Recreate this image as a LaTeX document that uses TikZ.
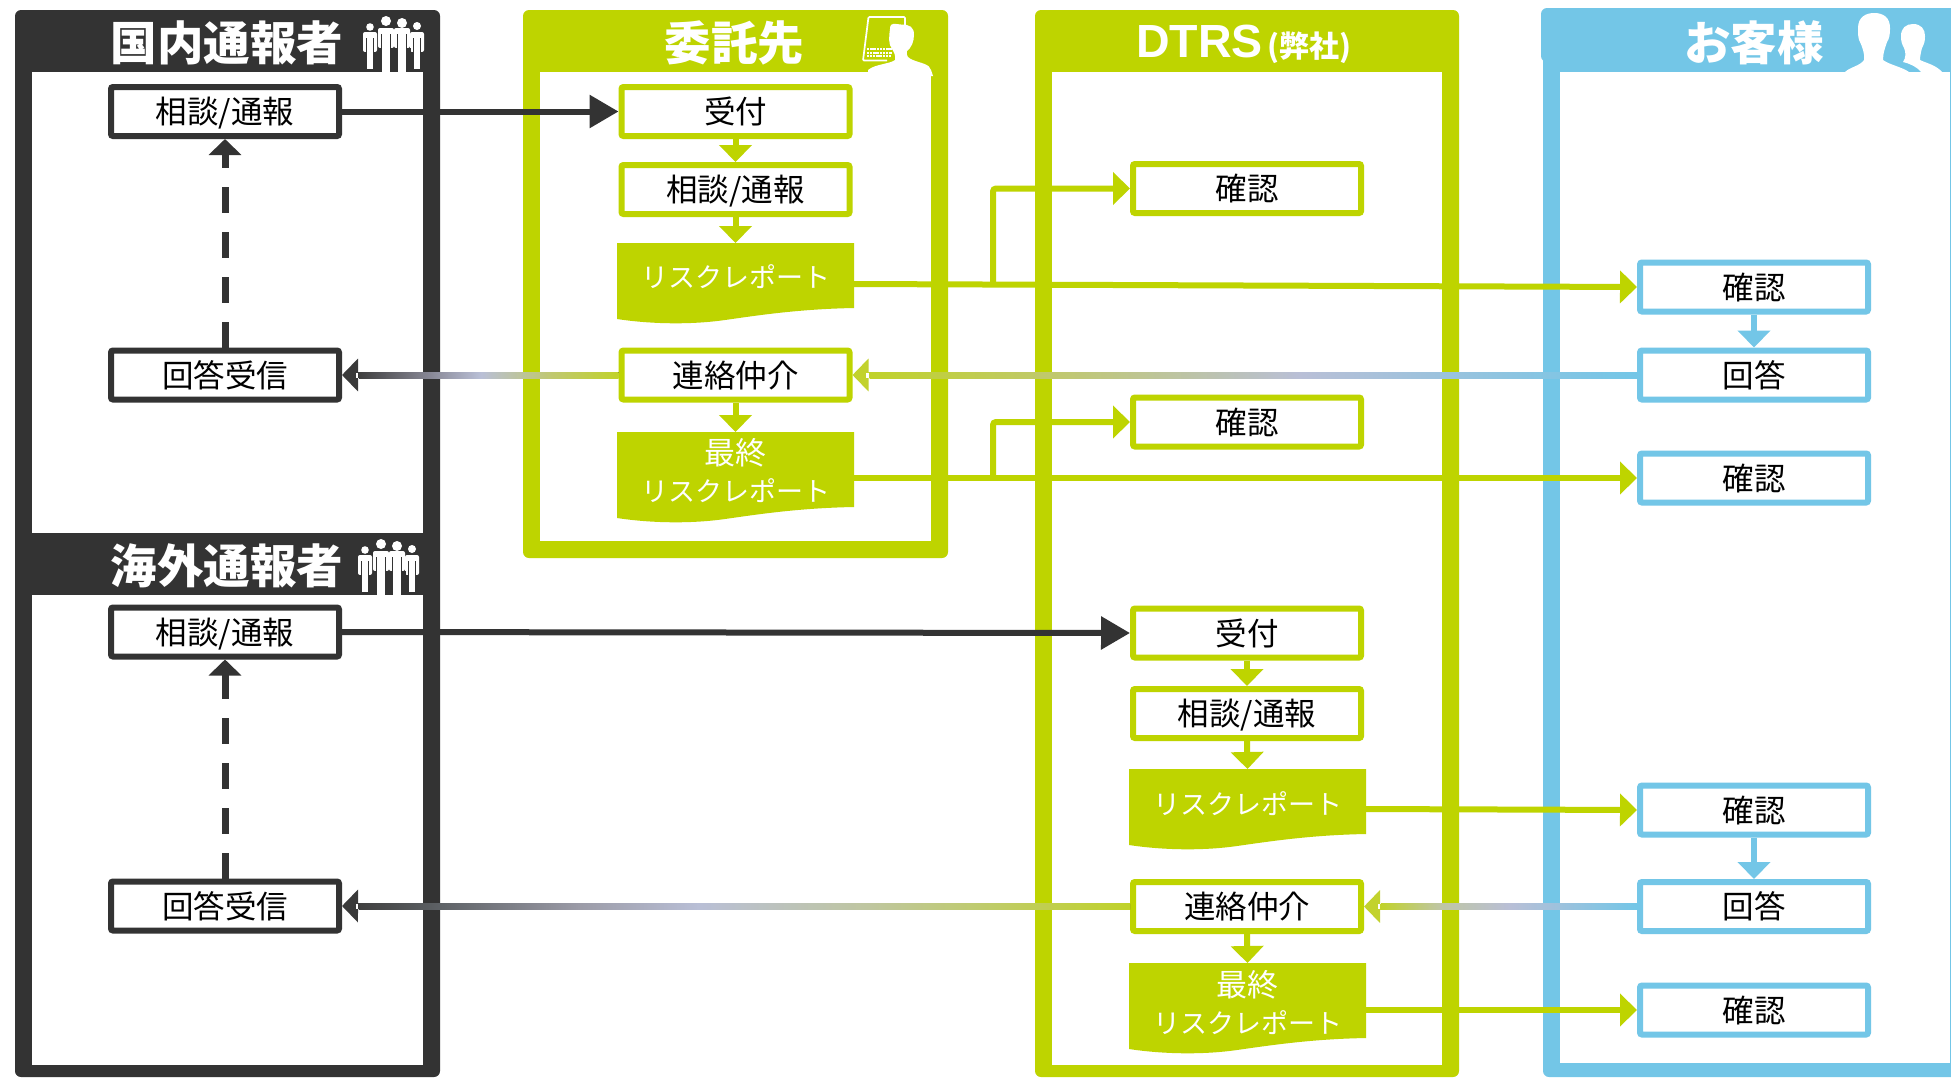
\documentclass[tikz,border=0pt]{standalone}
\usepackage{fontspec}
\setmainfont{Noto Sans CJK JP}
\newfontfamily\latinbold{Liberation Sans Bold}
\usetikzlibrary{arrows.meta,calc}
\definecolor{darkc}{HTML}{333333}
\definecolor{limec}{HTML}{BED400}
\definecolor{bluec}{HTML}{73C6E7}
\definecolor{headlime}{HTML}{C2D22E}
\definecolor{headdark}{HTML}{3A3A3A}
\definecolor{gA}{HTML}{C0D22A}
\definecolor{gB}{HTML}{C0C870}
\definecolor{gC}{HTML}{B9BFD6}
\definecolor{gD}{HTML}{8FC4E0}
\definecolor{gE}{HTML}{BFC6A0}
\definecolor{gF}{HTML}{9C9CA8}
\definecolor{gG}{HTML}{5E6266}
\definecolor{gH}{HTML}{404040}
\definecolor{gI}{HTML}{8A8A98}
\pgfdeclarehorizontalshading{gradA}{100bp}{color(0bp)=(gA); color(25bp)=(gA); color(37.5bp)=(gB); color(53bp)=(gC); color(66bp)=(gD); color(75bp)=(bluec); color(100bp)=(bluec)}
\pgfdeclarehorizontalshading{gradB}{100bp}{color(0bp)=(gH); color(25bp)=(gH); color(39bp)=(gI); color(48.5bp)=(gC); color(62bp)=(gB); color(75bp)=(gA); color(100bp)=(gA)}
\pgfdeclarehorizontalshading{gradC}{100bp}{color(0bp)=(gA); color(25bp)=(gA); color(36bp)=(gE); color(50bp)=(gC); color(75bp)=(bluec); color(100bp)=(bluec)}
\pgfdeclarehorizontalshading{gradD}{100bp}{color(0bp)=(gH); color(25bp)=(gH); color(30.3bp)=(gG); color(39.4bp)=(gF); color(47bp)=(gC); color(58bp)=(gE); color(75bp)=(gA); color(100bp)=(gA)}
\tikzset{
  x=1pt,y=-1pt,
  boxbase/.style={draw,fill=white,text=black,line width=6pt,rounded corners=2pt,minimum width=228pt,minimum height=49pt,inner sep=0pt,text height=27pt,text depth=2.4pt,font=\fontsize{31.5}{34}\selectfont},
  darkbox/.style={boxbase,draw=darkc},
  limebox/.style={boxbase,draw=limec},
  bluebox/.style={boxbase,draw=bluec},
  doctext/.style={text=white,inner sep=0pt,outer sep=0pt,minimum width=237pt,minimum height=1pt,align=center,font=\fontsize{27}{36}\selectfont},
  titletext/.style={text=white,inner sep=0pt,font=\fontsize{46.5}{50}\selectfont\bfseries},
  lead/.style={line width=6pt},
  tipshort/.style={-{Triangle[width=32pt,length=17pt]}},
  tiplong/.style={-{Triangle[width=32pt,length=29pt]}},
  dashline/.style={line width=7pt,darkc,dash pattern=on 26pt off 19pt,-{Triangle[width=32pt,length=16pt]}},
}
\newcommand\twolinedoc{\shortstack[c]{\fontsize{31}{34}\selectfont 最終\\[8.5pt]リスクレポート}}
% x of left edge, y of the top, y of the right end of the wave
\newcommand\docwave[3]{%
  \fill[limec] (#1,#2) -- ++(237,0) -- (#1+237,#3)
    .. controls (#1+183,#3+1) and (#1+143,#3+7) .. (#1+108,#3+12)
    .. controls (#1+73,#3+17) and (#1+33,#3+16) .. (#1,#3+11) -- cycle;}
% centre x, shoulder y, bottom y, width, head y, head radius, background colour
\newcommand\personfig[7]{%
  \fill[white] (#1,#5) circle (#6);
  \fill[white,rounded corners=2pt] (#1-#4/2,#2) rectangle (#1+#4/2,#2+20);
  \fill[#7] (#1-#4/2+2.8,#2+6) rectangle (#1-#4/2+4.3,#2+20);
  \fill[#7] (#1+#4/2-4.3,#2+6) rectangle (#1+#4/2-2.8,#2+20);
  \fill[#7] (#1-#4/2-.5,#2+20) rectangle (#1-#4/2+4.3,#2+24);
  \fill[#7] (#1+#4/2-4.3,#2+20) rectangle (#1+#4/2+.5,#2+24);
  \fill[white] (#1-#4/2+4.3,#2+2) rectangle (#1+#4/2-4.3,#3);
}
\newcommand\groupfig{%
  \personfig{370}{32}{69}{14}{27}{3.8}{darkc}
  \personfig{417}{32}{69}{14}{26}{4}{darkc}
  \personfig{386}{28}{73}{16}{21}{5}{darkc}
  \personfig{402}{28}{73}{16}{23}{5}{darkc}
}
\begin{document}
\begin{tikzpicture}
\useasboundingbox (0,0) rectangle (1951,1077);
\fill[white] (0,0) rectangle (1951,1077);
% ---- swimlanes
\fill[darkc,rounded corners=6pt] (15,10) rectangle (440,1077);
\fill[white] (32,72) rectangle (423,533);
\fill[white] (32,595) rectangle (423,1065);
\fill[limec,rounded corners=6pt] (523,10) rectangle (948,558);
\fill[white] (540,72) rectangle (931,541);
\fill[limec,rounded corners=6pt] (1035,10) rectangle (1459,1077);
\fill[white] (1052,72) rectangle (1442,1065);
\fill[bluec,rounded corners=6pt] (1543,8) rectangle (1970,1077);
\fill[bluec,rounded corners=6pt] (1541,8) rectangle (1970,62);
\fill[white] (1560,72) rectangle (1950,1063);
% ---- titles
\node[titletext] (t1) at (227,43) {国内通報者};
\node[titletext] (t2) at (227,566) {海外通報者};
\node[titletext] (t3) at (734.5,43) {委託先};
\node[text=white,inner sep=0pt,anchor=base west,font=\fontsize{46.5}{50}\latinbold] (t4a) at (1136,57.5) {DTRS};
\node[text=white,inner sep=0pt,font=\fontsize{30}{34}\selectfont\bfseries] (t4b) at (1309,48) {(弊社)};
\node[titletext] (t5) at (1754,43) {お客様};
% ---- icons
\groupfig
\begin{scope}[shift={(-5,523)}]\groupfig\end{scope}
% laptop and person
\draw[white,line width=1.7pt,rounded corners=1pt] (887,60.5) -- (863,60.5) -- (868.5,17) -- (905,17) -- (905,30);
\foreach \yy in {48,51.5,55}{\foreach \xx in {0,...,7}{\fill[white] (867+\xx*3.2-\yy*.05+2.4,\yy) rectangle ++(2.3,2.3);}}
\fill[white] (890,29) .. controls (890,21) and (896,24.5) .. (901,24.5) .. controls (910,24.5) and (914,27) .. (914,35)
  .. controls (914,42) and (911,48) .. (907,51) .. controls (906,56) and (908,58) .. (913,60)
  .. controls (920,63) and (930,64) .. (931,70) -- (933,76) -- (868,76) -- (868,70)
  .. controls (875,64) and (890,64) .. (895,60) .. controls (896,56) and (894,52) .. (892,49)
  .. controls (888,44) and (889,36) .. (890,29) -- cycle;
% customers
\fill[white] (1858,28) .. controls (1858,17) and (1866,13) .. (1874,13) .. controls (1884,13) and (1890,18) .. (1890,28)
  .. controls (1890,36) and (1889,39) .. (1887,42) .. controls (1885,48) and (1883,53) .. (1883,60)
  .. controls (1890,65) and (1902,67) .. (1909,72) -- (1845,72) .. controls (1850,67) and (1860,66) .. (1864,60)
  .. controls (1865,54) and (1862,46) .. (1860,42) .. controls (1858,39) and (1858,34) .. (1858,28) -- cycle;
\fill[white] (1901,36) .. controls (1901,28) and (1906,24) .. (1913,24) .. controls (1921,24) and (1925,29) .. (1925,36)
  .. controls (1925,42) and (1924,44) .. (1922,48) .. controls (1921,52) and (1920,56) .. (1920,60)
  .. controls (1926,63) and (1936,65) .. (1942,72) -- (1921,72) .. controls (1917,67) and (1911,64) .. (1903,62)
  .. controls (1906,58) and (1906,52) .. (1904,48) .. controls (1902,44) and (1901,42) .. (1901,36) -- cycle;
% ---- document shapes
\docwave{617}{243}{308}
\docwave{617}{432}{507}
\docwave{1129}{769}{834}
\docwave{1129}{963}{1038}
\node[doctext] (rep1) at (735.5,284) {\raisebox{15pt}{リスクレポート}};
\node[doctext] (fin1) at (735.5,478) {\raisebox{16pt}{\twolinedoc}};
\node[doctext] (rep2) at (1247.5,809) {\raisebox{12pt}{リスクレポート}};
\node[doctext] (fin2) at (1247.5,1010) {\raisebox{16pt}{\twolinedoc}};
\coordinate (rep1top) at (735.5,243);
\coordinate (fin1top) at (735.5,432);
\coordinate (rep2top) at (1247.5,769);
\coordinate (fin2top) at (1247.5,963);
\coordinate (bend1) at (993,284);
\coordinate (bend2) at (993,478);
% ---- boxes
\node[darkbox] (dSou1) at (225,111.5) {相談/通報};
\node[darkbox] (dAns1) at (225,375) {回答受信};
\node[darkbox] (dSou2) at (225,632) {相談/通報};
\node[darkbox] (dAns2) at (225,906) {回答受信};
\node[limebox] (aUke) at (735.5,111.5) {受付};
\node[limebox] (aSou) at (735.5,189.5) {相談/通報};
\node[limebox] (aRen) at (735.5,375) {連絡仲介};
\node[limebox] (bKak1) at (1247,188.5) {確認};
\node[limebox] (bKak2) at (1247,422) {確認};
\node[limebox] (bUke) at (1247,633) {受付};
\node[limebox] (bSou) at (1247,713.5) {相談/通報};
\node[limebox] (bRen) at (1247,906.5) {連絡仲介};
\node[bluebox] (cKak1) at (1754,287) {確認};
\node[bluebox] (cAns1) at (1754,375) {回答};
\node[bluebox] (cKak2) at (1754,478) {確認};
\node[bluebox] (cKak3) at (1754,810) {確認};
\node[bluebox] (cAns2) at (1754,906.5) {回答};
\node[bluebox] (cKak4) at (1754,1010) {確認};
% ---- connectors
\draw[lead,darkc,tiplong] (dSou1.east) -- (aUke.west);
\draw[lead,darkc,tiplong] (dSou2.east) -- (bUke.west);
\draw[dashline] (dAns1.north) -- (dSou1.south);
\draw[dashline] (dAns2.north) -- (dSou2.south);
\draw[lead,limec,tipshort] (aUke.south) -- (aSou.north);
\draw[lead,limec,tipshort] (aSou.south) -- (rep1top);
\draw[lead,limec,tipshort] (aRen.south) -- (fin1top);
\draw[lead,limec,tipshort] (bUke.south) -- (bSou.north);
\draw[lead,limec,tipshort] (bSou.south) -- (rep2top);
\draw[lead,limec,tipshort] (bRen.south) -- (fin2top);
\draw[lead,limec,tipshort] (rep1.east) -- (cKak1.west);
\draw[lead,limec,tipshort,rounded corners=3pt] (bend1) |- (bKak1.west);
\draw[lead,limec,tipshort] (fin1.east) -- (cKak2.west);
\draw[lead,limec,tipshort,rounded corners=3pt] (bend2) |- (bKak2.west);
\draw[lead,limec,tipshort] (rep2.east) -- (cKak3.west);
\draw[lead,limec,tipshort] (fin2.east) -- (cKak4.west);
\draw[lead,bluec,tipshort] (cKak1.south) -- (cAns1.north);
\draw[lead,bluec,tipshort] (cKak3.south) -- (cAns2.north);
% gradient return lines
\draw[lead,headlime,-{Triangle[width=32pt,length=16pt]}] (cAns1.west) -- (aRen.east);
\shade[shading=gradA] ($(aRen.east)+(17,-3)$) rectangle ($(cAns1.west)+(0,3)$);
\fill[white] ($(aRen.east)+(13.5,-2.5)$) rectangle ($(aRen.east)+(16,2.5)$);
\draw[lead,headdark,-{Triangle[width=32pt,length=16pt]}] (aRen.west) -- (dAns1.east);
\shade[shading=gradB] ($(dAns1.east)+(17,-3)$) rectangle ($(aRen.west)+(0,3)$);
\fill[white] ($(dAns1.east)+(13.5,-2.5)$) rectangle ($(dAns1.east)+(16,2.5)$);
\draw[lead,headlime,-{Triangle[width=32pt,length=16pt]}] (cAns2.west) -- (bRen.east);
\shade[shading=gradC] ($(bRen.east)+(17,-3)$) rectangle ($(cAns2.west)+(0,3)$);
\fill[white] ($(bRen.east)+(13.5,-2.5)$) rectangle ($(bRen.east)+(16,2.5)$);
\draw[lead,headdark,-{Triangle[width=32pt,length=16pt]}] (bRen.west) -- (dAns2.east);
\shade[shading=gradD] ($(dAns2.east)+(17,-3)$) rectangle ($(bRen.west)+(0,3)$);
\fill[white] ($(dAns2.east)+(13.5,-2.5)$) rectangle ($(dAns2.east)+(16,2.5)$);
\end{tikzpicture}
\end{document}
